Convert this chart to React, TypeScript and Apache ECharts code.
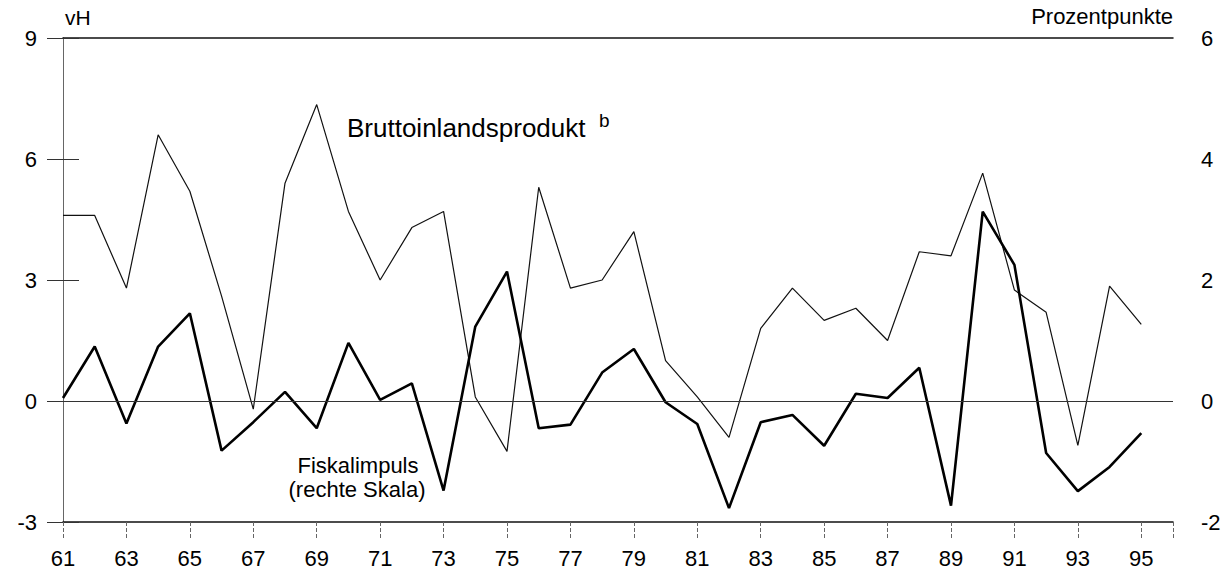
import React, { useEffect, useRef } from "react";
import * as echarts from "echarts";

const years = [61, 62, 63, 64, 65, 66, 67, 68, 69, 70, 71, 72, 73, 74, 75, 76, 77, 78, 79, 80, 81, 82, 83, 84, 85, 86, 87, 88, 89, 90, 91, 92, 93, 94, 95];
const bip = [4.6, 4.6, 2.8, 6.6, 5.2, 2.6, -0.2, 5.4, 7.35, 4.7, 3.0, 4.3, 4.7, 0.1, -1.25, 5.3, 2.8, 3.0, 4.2, 1.0, 0.1, -0.9, 1.8, 2.8, 2.0, 2.3, 1.5, 3.7, 3.6, 5.65, 2.75, 2.2, -1.1, 2.85, 1.9];
const fiskal = [0.05, 0.9, -0.37, 0.9, 1.45, -0.82, -0.35, 0.15, -0.45, 0.96, 0.02, 0.29, -1.48, 1.23, 2.14, -0.45, -0.39, 0.47, 0.86, -0.02, -0.38, -1.77, -0.35, -0.23, -0.74, 0.12, 0.05, 0.55, -1.73, 3.13, 2.25, -0.86, -1.49, -1.09, -0.53];
const firstYear = 61;
const lastYearEdge = 96;

const FONT = "'Liberation Sans', Arial, Helvetica, sans-serif";

export default function App() {
  const ref = useRef<HTMLDivElement>(null);
  useEffect(() => {
    if (!ref.current) return;
    const chart = echarts.init(ref.current, undefined, { renderer: "svg" });
    const toX = (y: number) => y - firstYear;
    const option: any = {
      animation: false,
      backgroundColor: "#ffffff",
      textStyle: { fontFamily: FONT },
      grid: { left: 63, right: 56, top: 38, bottom: 53 },
      xAxis: [
        {
          type: "value",
          min: 0,
          max: lastYearEdge - firstYear,
          interval: 2,
          position: "bottom",
          axisLine: { show: true, onZero: false, lineStyle: { color: "#111", width: 1.5 } },
          axisTick: { show: true, inside: false, length: 16, lineStyle: { color: "#666", width: 1, type: "dashed" } },
          axisLabel: {
            margin: 25,
            fontSize: 22,
            color: "#000",
            fontFamily: FONT,
            formatter: (v: number) => (v >= lastYearEdge - firstYear ? "" : String(v + firstYear)),
          },
          splitLine: { show: false },
        },
        {
          type: "value",
          min: 0,
          max: lastYearEdge - firstYear,
          position: "top",
          axisLine: { show: true, onZero: false, lineStyle: { color: "#111", width: 1.5 } },
          axisTick: { show: false },
          axisLabel: { show: false },
          splitLine: { show: false },
        },
      ],
      yAxis: [
        {
          type: "value",
          min: -3,
          max: 9,
          interval: 3,
          position: "left",
          axisLine: { show: true, lineStyle: { color: "#666", width: 1 } },
          axisTick: { show: true, inside: false, length: 16, lineStyle: { color: "#333", width: 1 } },
          axisLabel: { margin: 26, fontSize: 22, color: "#000", fontFamily: FONT },
          splitLine: { show: false },
        },
        {
          type: "value",
          min: -2,
          max: 6,
          interval: 2,
          position: "right",
          axisLine: { show: true, lineStyle: { color: "#666", width: 1 } },
          axisTick: { show: true, inside: false, length: 16, lineStyle: { color: "#333", width: 1 } },
          axisLabel: { margin: 28, fontSize: 22, color: "#000", fontFamily: FONT },
          splitLine: { show: false },
        },
      ],
      series: [
        {
          name: "Bruttoinlandsprodukt",
          type: "line",
          xAxisIndex: 0,
          yAxisIndex: 0,
          data: years.map((y, i) => [toX(y), bip[i]]),
          symbol: "none",
          lineStyle: { color: "#111", width: 1.2 },
          z: 3,
          markLine: {
            silent: true,
            symbol: ["none", "none"],
            label: { show: false },
            lineStyle: { color: "#333", width: 1.2, type: "solid" },
            data: [{ yAxis: 0 }],
          },
        },
        {
          name: "Fiskalimpuls",
          type: "line",
          xAxisIndex: 0,
          yAxisIndex: 1,
          data: years.map((y, i) => [toX(y), fiskal[i]]),
          symbol: "none",
          lineStyle: { color: "#000", width: 2.6 },
          z: 4,
        },
      ],
      graphic: [
        {
          type: "text",
          left: 65,
          top: 7,
          style: { text: "vH", fontSize: 21, fontFamily: FONT, fill: "#000" },
        },
        {
          type: "text",
          right: 56,
          top: 5,
          style: { text: "Prozentpunkte", fontSize: 22, fontFamily: FONT, fill: "#000" },
        },
        {
          type: "text",
          left: 347,
          top: 115,
          style: { text: "Bruttoinlandsprodukt", fontSize: 26, fontFamily: FONT, fill: "#000" },
        },
        {
          type: "text",
          left: 599,
          top: 111,
          style: { text: "b", fontSize: 19, fontFamily: FONT, fill: "#000" },
        },
        {
          type: "text",
          x: 358,
          y: 465,
          style: {
            text: "Fiskalimpuls",
            fontSize: 22,
            align: "center",
            verticalAlign: "middle",
            fontFamily: FONT,
            fill: "#000",
          },
        },
        {
          type: "text",
          x: 357,
          y: 489,
          style: {
            text: "(rechte Skala)",
            fontSize: 22,
            align: "center",
            verticalAlign: "middle",
            fontFamily: FONT,
            fill: "#000",
          },
        },
      ],
    };
    chart.setOption(option);
    return () => chart.dispose();
  }, []);
  return (
    <div
      ref={ref}
      style={{ position: "fixed", left: 0, top: 0, width: 1229, height: 575, background: "#fff" }}
    />
  );
}
